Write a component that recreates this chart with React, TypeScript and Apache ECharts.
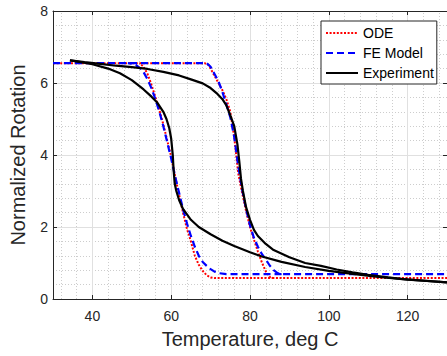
import React, { useEffect, useRef } from "react";
import * as echarts from "echarts";

// ODE model (red dotted): heating branch and cooling branch
const odeHeat: [number, number][] = [
  [30, 6.55], [68.5, 6.55], [69.5, 6.5], [70.5, 6.3], [72, 6.0], [73, 5.8], [74, 5.55],
  [75, 5.2], [76, 4.5], [77, 3.5], [78, 2.95], [79, 2.45], [80, 2.0], [81, 1.65],
  [82, 1.32], [83, 1.02], [84, 0.77], [85, 0.61], [86, 0.58], [130, 0.58],
];
const odeCool: [number, number][] = [
  [86, 0.58], [71, 0.58], [70, 0.6], [69, 0.66], [68, 0.78], [67, 0.95], [66, 1.2],
  [65, 1.6], [64, 1.95], [63, 2.4], [62, 2.9], [61, 3.4], [60, 3.95], [59, 4.4],
  [58, 4.85], [57, 5.25], [56, 5.6], [55, 5.95], [54, 6.25], [53, 6.45], [52, 6.55],
];

// FE model (blue dashed)
const feHeat: [number, number][] = [
  [30, 6.55], [69, 6.55], [70, 6.45], [71, 6.25], [72, 6.05], [73, 5.75], [74, 5.4],
  [75, 5.05], [76, 4.5], [77, 3.7], [78, 3.05], [79, 2.5], [80, 2.05], [81, 1.7],
  [82, 1.45], [83, 1.25], [84, 1.1], [85, 0.93], [86, 0.8], [87, 0.72], [88, 0.69],
  [130, 0.69],
];
const feCool: [number, number][] = [
  [88, 0.69], [74, 0.69], [72, 0.72], [71, 0.76], [70, 0.83], [69, 0.92], [68, 1.03],
  [67, 1.2], [66, 1.45], [65, 1.75], [64, 2.1], [63, 2.5], [62, 2.95], [61, 3.4],
  [60, 3.9], [59, 4.35], [58, 4.8], [57, 5.2], [56, 5.55], [55, 5.85], [54, 6.1],
  [53, 6.3], [52, 6.42], [51, 6.5], [50, 6.54], [49, 6.55],
];

// Experiment (black solid)
const expHeat: [number, number][] = [
  [34.3, 6.63], [38, 6.58], [42, 6.53], [46, 6.48], [50, 6.44], [54, 6.39], [58, 6.31],
  [62, 6.21], [65, 6.1], [68, 5.99], [70, 5.86], [71.5, 5.72], [73, 5.55], [74, 5.38],
  [75, 5.1], [76, 4.8], [76.8, 4.3], [77.3, 3.8], [77.7, 3.35], [78.2, 3.0], [79, 2.55],
  [80, 2.2], [81, 1.92], [82, 1.75], [84, 1.53], [86, 1.36], [90, 1.16], [94, 1.0],
  [98, 0.92], [102, 0.82], [106, 0.74], [110, 0.67], [115, 0.6], [120, 0.54],
  [125, 0.5], [130, 0.46],
];
const expCool: [number, number][] = [
  [34.3, 6.63], [36, 6.6], [40, 6.52], [44, 6.4], [47, 6.27], [50, 6.08], [53, 5.82],
  [55, 5.62], [56.5, 5.45], [58, 5.2], [58.8, 5.0], [59.5, 4.75], [60, 4.45],
  [60.4, 4.0], [60.6, 3.6], [60.9, 3.2], [61.3, 3.0], [62, 2.75], [63, 2.5],
  [64, 2.35], [65, 2.2], [67, 2.0], [70, 1.8], [73, 1.62], [76, 1.47], [80, 1.3],
  [83, 1.18], [88, 1.03], [94, 0.89], [100, 0.78], [106, 0.7], [112, 0.62],
  [118, 0.56], [124, 0.51], [130, 0.46],
];

const xMin = 30;
const xMax = 130;
const yMin = 0;
const yMax = 8;
const xMinorGrid: number[] = [];
for (let v = 32; v < xMax; v += 4) if (v % 20 !== 0) xMinorGrid.push(v);

const FONT = "'Liberation Sans', Arial, Helvetica, sans-serif";
const AX = "#262626";
const MAJOR = "#e0e0e0";
const MINOR = "#cdcdcd";

export default function App() {
  const ref = useRef<HTMLDivElement>(null);
  useEffect(() => {
    document.body.style.margin = "0";
    if (!ref.current) return;
    const chart = echarts.init(ref.current, undefined, { renderer: "svg" });
    const redStyle = { color: "#ff0000", width: 2, type: [2, 1.6] as number[] };
    const blueStyle = { color: "#0000ff", width: 2.2, type: [7, 4] as number[] };
    const blackStyle = { color: "#000000", width: 2.2 };
    const common = { type: "line", symbol: "none", showSymbol: false, z: 3, silent: true };
    chart.setOption({
      animation: false,
      backgroundColor: "#ffffff",
      grid: { left: 48, top: 11, width: 400, height: 288, containLabel: false },
      legend: {
        orient: "vertical",
        left: 321,
        top: 21,
        padding: [5, 3, 4, 4],
        itemWidth: 32,
        itemHeight: 14,
        itemGap: 6,
        backgroundColor: "#ffffff",
        borderColor: AX,
        borderWidth: 1,
        borderRadius: 0,
        selectedMode: false,
        itemStyle: { opacity: 0 },
        textStyle: { fontSize: 14, color: "#000", fontFamily: FONT },
        data: ["ODE", "FE Model", "Experiment"],
      },
      xAxis: [
        {
          type: "value",
          min: xMin,
          max: xMax,
          position: "bottom",
          name: "Temperature, deg C",
          nameLocation: "middle",
          nameGap: 30,
          nameTextStyle: { fontSize: 20, color: AX, fontFamily: FONT },
          axisLine: { show: true, lineStyle: { color: AX, width: 1 } },
          axisTick: { show: true, inside: true, length: 4, lineStyle: { color: AX } },
          axisLabel: {
            fontSize: 14,
            color: AX,
            fontFamily: FONT,
            margin: 10,
            showMinLabel: false,
            showMaxLabel: false,
          },
          splitLine: { show: true, lineStyle: { color: MAJOR, width: 1 } },
        },
        {
          type: "value",
          min: xMin,
          max: xMax,
          position: "top",
          axisLine: { show: true, onZero: false, lineStyle: { color: AX, width: 1 } },
          axisTick: { show: true, inside: true, length: 4, lineStyle: { color: AX } },
          axisLabel: { show: false },
          splitLine: { show: false },
        },
      ],
      yAxis: [
        {
          type: "value",
          min: yMin,
          max: yMax,
          interval: 2,
          name: "Normalized Rotation",
          nameLocation: "middle",
          nameGap: 25,
          nameTextStyle: { fontSize: 20, color: AX, fontFamily: FONT },
          axisLine: { show: true, lineStyle: { color: AX, width: 1 } },
          axisTick: { show: true, inside: true, length: 4, lineStyle: { color: AX } },
          axisLabel: { fontSize: 14, color: AX, fontFamily: FONT, margin: 5 },
          splitLine: { show: true, lineStyle: { color: MAJOR, width: 1 } },
          minorTick: { show: false, splitNumber: 5 },
          minorSplitLine: { show: true, lineStyle: { color: MINOR, width: 1, type: [1, 2] } },
        },
        {
          type: "value",
          min: yMin,
          max: yMax,
          interval: 2,
          position: "right",
          axisLine: { show: true, onZero: false, lineStyle: { color: AX, width: 1 } },
          axisTick: { show: true, inside: true, length: 4, lineStyle: { color: AX } },
          axisLabel: { show: false },
          splitLine: { show: false },
        },
      ],
      series: [
        {
          ...common,
          name: "ODE",
          data: odeHeat,
          lineStyle: redStyle,
          itemStyle: { color: "#ff0000" },
          markLine: {
            silent: true,
            symbol: "none",
            z: 1,
            label: { show: false },
            lineStyle: { color: MINOR, width: 1, type: [1, 2] },
            emphasis: { disabled: true },
            data: xMinorGrid.map((v) => ({ xAxis: v })),
          },
        },
        { ...common, name: "ODE", data: odeCool, lineStyle: redStyle, itemStyle: { color: "#ff0000" } },
        { ...common, name: "FE Model", data: feHeat, lineStyle: blueStyle, itemStyle: { color: "#0000ff" } },
        { ...common, name: "FE Model", data: feCool, lineStyle: blueStyle, itemStyle: { color: "#0000ff" } },
        { ...common, name: "Experiment", data: expHeat, lineStyle: blackStyle, itemStyle: { color: "#000" } },
        { ...common, name: "Experiment", data: expCool, lineStyle: blackStyle, itemStyle: { color: "#000" } },
      ],
    });
    return () => chart.dispose();
  }, []);
  return <div ref={ref} style={{ width: 447, height: 356 }} />;
}
